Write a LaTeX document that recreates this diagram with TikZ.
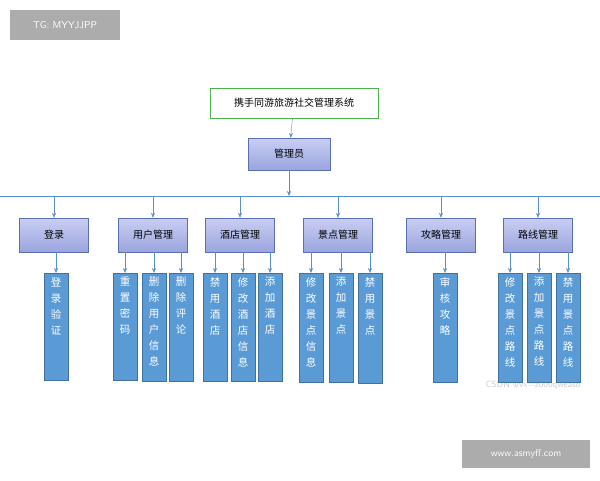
\documentclass[tikz,border=0pt]{standalone}
\usepackage{fontspec}
\setmainfont{Noto Sans CJK SC}
\usetikzlibrary{positioning, arrows.meta}
\definecolor{arrowblue}{HTML}{5B8FC7}
\definecolor{midfill}{HTML}{9AA5DF}
\definecolor{midtop}{HTML}{C9CEF2}
\definecolor{midline}{HTML}{5A6FB0}
\definecolor{leaffill}{HTML}{5B9BD5}
\definecolor{leafline}{HTML}{41719C}
\begin{document}
\begin{tikzpicture}[x=1pt, y=-1pt,
            every node/.style = {font=\fontsize{10}{12}\selectfont, inner sep=0pt},
            midbox/.style = {draw=midline, top color=midtop, bottom color=midfill,
                minimum width=69pt, minimum height=34pt},
            leafbox/.style = {draw=leafline, fill=leaffill, minimum width=24pt},
            leaftext/.style = {text=white, align=center,
                font=\fontsize{10.5}{16}\selectfont},
            tag/.style = {fill=gray!65, text=white, font=\fontsize{10}{12}\selectfont\sffamily},
            link/.style = {draw=arrowblue, -{Stealth[length=5pt, width=4pt]}}
        ]
        \useasboundingbox (0,0) rectangle (600,480);

        % tags
        \node[tag, minimum width=110pt, minimum height=30pt] (tg) at (65,25) {TG: MYYJJPP};
        \node[tag, minimum width=128pt, minimum height=28pt] (www) at (526,454) {www.asmyff.com};
        \node[text=gray!40, font=\fontsize{9}{11}\selectfont\sffamily] (csdn) at (533,385) {CSDN @vx=z000qweasd};

        % top
        \node[draw=gray!60!green, fill=white, minimum width=168pt, minimum height=30pt] (sys) at (294,103) {携手同游旅游社交管理系统};
        \node[midbox, minimum width=82pt, minimum height=32pt] (admin) at (289,154) {管理员};
        \coordinate (busl) at (0,196);
        \coordinate (busr) at (600,196);
        \coordinate (busm) at (289,196);
        \draw[link] (sys) -- (admin);
        \draw[link] (admin) -- (busm);
        \draw[draw=arrowblue] (busl) -- (busr);

        % second level
        \foreach \x/\n/\t in {54/login/登录, 153/user/用户管理, 240/hotel/酒店管理,
                              338/spot/景点管理, 441/guide/攻略管理, 538/route/路线管理} {
            \node[midbox] (\n) at (\x,235) {\t};
            \coordinate (\n top) at (\x,196);
            \draw[link] (\n top) -- (\n);
        }

        % leaves
        \foreach \p/\x/\b/\t in {login/56/380/登\\录\\验\\证,
                user/125/380/重\\置\\密\\码, user/154/381/删\\除\\用\\户\\信\\息, user/181/381/删\\除\\评\\论,
                hotel/215/381/禁\\用\\酒\\店, hotel/243/381/修\\改\\酒\\店\\信\\息, hotel/270/381/添\\加\\酒\\店,
                spot/311/382/修\\改\\景\\点\\信\\息, spot/341/382/添\\加\\景\\点, spot/370/383/禁\\用\\景\\点,
                guide/445/382/审\\核\\攻\\略,
                route/510/382/修\\改\\景\\点\\路\\线, route/539/382/添\\加\\景\\点\\路\\线, route/568/382/禁\\用\\景\\点\\路\\线} {
            \node[leafbox, minimum height={\b-273}, anchor=north] (leaf\x) at (\x,273) {};
            \node[leaftext, below=4pt of leaf\x.north] (lt\x) {\t};
            \coordinate (src\x) at (\x,252);
            \draw[link] (src\x) -- (leaf\x.north);
        }
\end{tikzpicture}
\end{document}
